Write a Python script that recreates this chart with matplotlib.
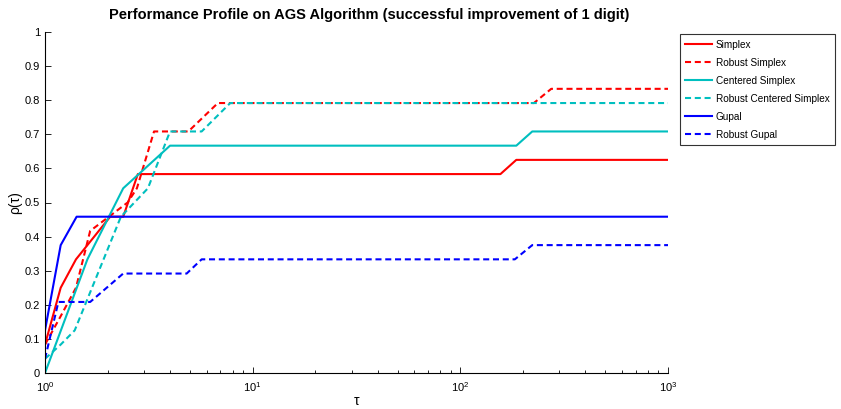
import matplotlib
matplotlib.use('Agg')
import matplotlib.pyplot as plt
import matplotlib.ticker as ticker
import numpy as np

plt.rcParams['font.family'] = ['Liberation Sans', 'DejaVu Sans']

# datos (24 problemas -> pasos de 1/24)
tau_simplex = [1, 1.19, 1.41, 1.6, 2.06, 2.38, 2.8, 156, 186, 1000]
rho_simplex = [2, 6, 8, 9, 11, 11, 14, 14, 15, 15]

tau_rsimplex = [1, 1.19, 1.41, 1.65, 2.5, 2.77, 3.35, 4.9, 6.8, 226, 274, 1000]
rho_rsimplex = [2, 4, 6, 10, 12, 13, 17, 17, 19, 19, 20, 20]

tau_centered = [1, 1.6, 2.38, 4.0, 186, 222, 1000]
rho_centered = [0, 8, 13, 16, 16, 17, 17]

tau_rcentered = [1, 1.19, 1.39, 2.32, 3.13, 4.0, 5.68, 7.8, 1000]
rho_rcentered = [1, 2, 3, 11, 13, 17, 17, 19, 19]

tau_gupal = [1, 1.19, 1.42, 1000]
rho_gupal = [3, 9, 11, 11]

tau_rgupal = [1, 1.16, 1.65, 2.38, 4.81, 5.68, 183, 222, 1000]
rho_rgupal = [1, 5, 5, 7, 7, 8, 8, 9, 9]

n_problemas = 24.0

nombres = ['Simplex', 'Robust Simplex', 'Centered Simplex',
           'Robust Centered Simplex', 'Gupal', 'Robust Gupal']
taus = [tau_simplex, tau_rsimplex, tau_centered, tau_rcentered, tau_gupal, tau_rgupal]
rhos = [rho_simplex, rho_rsimplex, rho_centered, rho_rcentered, rho_gupal, rho_rgupal]
colores = ['#ff0000', '#ff0000', '#00bfbf', '#00bfbf', '#0000ff', '#0000ff']
punteada = [False, True, False, True, False, True]

fig = plt.figure(figsize=(8.41, 4.09), dpi=100)
ax = fig.add_axes([45/841, 1-373/409, (668-45)/841, (373-32)/409])

for i in range(len(nombres)):
    y = np.array(rhos[i]) / n_problemas
    linea, = ax.plot(taus[i], y, color=colores[i], lw=1.5, label=nombres[i])
    if punteada[i]:
        linea.set_dashes((2.9, 1.8))

ax.set_xscale('log')
ax.set_xlim(1, 1000)
ax.set_ylim(0, 1)
ax.set_yticks(np.arange(0, 1.01, 0.1))
ax.yaxis.set_major_formatter(ticker.FuncFormatter(lambda v, p: '%g' % round(v, 1)))
ax.tick_params(axis='both', which='both', direction='in', labelsize=8, width=0.6)
ax.tick_params(axis='both', which='major', length=4)
ax.tick_params(axis='x', which='minor', length=2.5)
ax.tick_params(axis='x', which='major', pad=5)
ax.spines['top'].set_visible(False)
ax.spines['right'].set_visible(False)
ax.spines['left'].set_linewidth(0.8)
ax.spines['bottom'].set_linewidth(0.8)

ax.set_title('Performance Profile on AGS Algorithm (successful improvement of 1 digit)',
             fontsize=10.5, fontweight='bold', pad=9, x=0.52)
ax.set_xlabel('τ', fontsize=10, labelpad=0)
ax.set_ylabel('ρ(τ)', fontsize=10, labelpad=2)

leg = ax.legend(loc='upper left', bbox_to_anchor=(679.5/841, 1-34/409),
                bbox_transform=fig.transFigure, fontsize=7.2, fancybox=False,
                frameon=True, borderaxespad=0, handlelength=2.7, handletextpad=0.35,
                labelspacing=0.8, borderpad=0.55)
leg.get_frame().set_edgecolor('black')
leg.get_frame().set_linewidth(0.8)

plt.savefig('out.png', dpi=100)
